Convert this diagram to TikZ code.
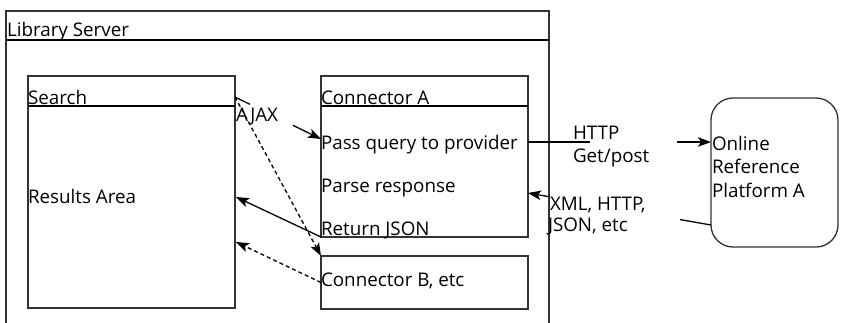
\documentclass[tikz,border=0pt]{standalone}
\usepackage{fontspec}
\setmainfont{Open Sans}
\usetikzlibrary{calc,arrows.meta}
\begin{document}
\begin{tikzpicture}[x=1pt,y=-1pt,
  box/.style={draw=black!80, line width=1.3pt, inner sep=0pt, outer sep=0pt, anchor=north west},
  head/.style={draw=black, line width=2.6pt},
  lbl/.style={anchor=base west, inner sep=0pt, outer sep=0pt, font=\fontsize{18.8}{23.5}\selectfont},
  conn/.style={line width=1.3pt, draw=black},
  tip/.style={-{Stealth[length=13pt,width=9.5pt,inset=3pt]}},
  dsh/.style={dash pattern=on 4pt off 3pt}]
\useasboundingbox (0,0) rectangle (841,322);
\clip (0,0) rectangle (841,322);
% boxes
\node[box, minimum width=543pt, minimum height=340pt] (server) at (6,11) {};
\draw[head] ($(server.north west)+(0,29)$) -- ($(server.north east)+(0,29)$);
\node[box, minimum width=207pt, minimum height=232pt] (search) at (28,76) {};
\draw[head] ($(search.north west)+(0,30)$) -- ($(search.north east)+(0,30)$);
\node[box, minimum width=207pt, minimum height=161pt] (ca) at (321,76) {};
\draw[head] ($(ca.north west)+(0,30)$) -- ($(ca.north east)+(0,30)$);
\node[box, minimum width=207pt, minimum height=53pt] (cb) at (321,256) {};
\node[box, rounded corners=22pt, minimum width=127pt, minimum height=149pt] (online) at (711,98) {};
% texts
\node[lbl] (tserver) at (7,36) {Library Server};
\node[lbl] (tsearch) at (28,104) {Search};
\node[lbl] (tresults) at (28,203) {Results Area};
\node[lbl] (tca) at (321,104.5) {Connector A};
\node[lbl] (tpass) at (321,149) {Pass query to provider};
\node[lbl] (tparse) at (321,192.5) {Parse response};
\node[lbl] (tret) at (321,235.5) {Return JSON};
\node[lbl] (tcb) at (321,286.5) {Connector B, etc};
\node[lbl] (tajax) at (236,121.5) {AJAX};
\node[lbl] (thttp) at (573,139) {HTTP};
\node[lbl] (tget) at (573,162) {Get/post};
\node[lbl] (txml) at (550,210) {XML, HTTP,};
\node[lbl] (tjson) at (548,231.5) {JSON, etc};
\node[lbl] (ton1) at (712,150) {Online};
\node[lbl] (ton2) at (712,173) {Reference};
\node[lbl] (ton3) at (712,197) {Platform A};
% connectors
\coordinate (a1) at ($(search.north east)+(0,21)$);
\coordinate (a2) at ($(ca.north west)+(0,63)$);
\draw[conn] (a1) -- ($(a1)!0.174!(a2)$);
\draw[conn,tip] ($(a1)!0.674!(a2)$) -- (a2);
\draw[conn,dsh,tip] (a1) -- (cb.north west);
\draw[conn,tip] (ca.south west) -- ($(search.north east)+(1,121)$);
\draw[conn,dsh,tip] (cb.west) -- ($(search.north east)+(1,166)$);
\coordinate (h1) at ($(ca.north east)+(0,66)$);
\coordinate (h2) at ($(online.north west)+(0,44)$);
\draw[conn] (h1) -- ($(h1)!0.339!(h2)$);
\draw[conn,tip] ($(h1)!0.814!(h2)$) -- (h2);
\coordinate (x1) at ($(online.north west)+(0,127)$);
\coordinate (x2) at ($(ca.north east)+(0,117)$);
\draw[conn] (x1) -- ($(x1)!0.169!(x2)$);
\draw[conn,tip] ($(x1)!0.88!(x2)$) -- (x2);
\end{tikzpicture}
\end{document}
